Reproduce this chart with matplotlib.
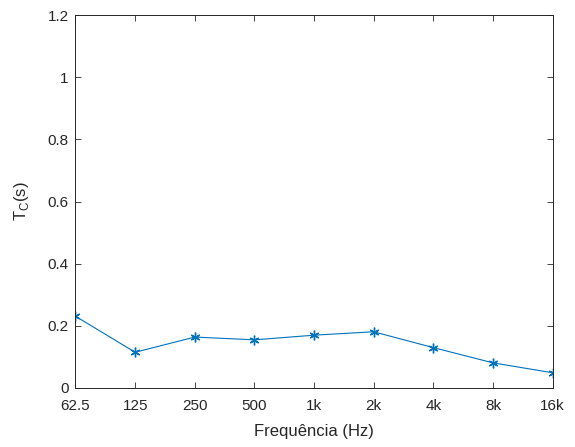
import matplotlib
matplotlib.use("Agg")
import matplotlib.pyplot as plt

freq_labels = ["62.5", "125", "250", "500", "1k", "2k", "4k", "8k", "16k"]
tc_values = [0.231, 0.115, 0.164, 0.155, 0.170, 0.181, 0.130, 0.081, 0.049]
y_ticks = [0, 0.2, 0.4, 0.6, 0.8, 1.0, 1.2]
y_tick_labels = ["0", "0.2", "0.4", "0.6", "0.8", "1", "1.2"]

plt.rcParams['font.family'] = ['Liberation Sans', 'DejaVu Sans']
ax_color = '#262626'

fig = plt.figure(figsize=(5.75, 4.47), dpi=100)
ax = fig.add_axes([0.1313, 0.132, 0.8297, 0.834])
x = list(range(len(freq_labels)))
ax.plot(x, tc_values, color='#0072BD', linewidth=0.8, marker=(6, 2, 0), markersize=7,
        markeredgewidth=1.0)
ax.set_xlim(0, len(freq_labels) - 1)
ax.set_ylim(0, 1.2)
ax.set_xticks(x)
ax.set_xticklabels(freq_labels)
ax.set_yticks(y_ticks)
ax.set_yticklabels(y_tick_labels)
ax.tick_params(direction='in', top=True, right=True, length=4, width=0.6,
               colors=ax_color, labelsize=11)
ax.tick_params(axis='x', pad=8)
ax.tick_params(axis='y', pad=5)
for s in ax.spines.values():
    s.set_color(ax_color)
    s.set_linewidth(0.7)
ax.set_xlabel("Frequência (Hz)", fontsize=12, color=ax_color, labelpad=8)
ax.set_ylabel(r"T$_\mathregular{C}$(s)", fontsize=12, color=ax_color, labelpad=12)
fig.savefig("out.png", dpi=100)
